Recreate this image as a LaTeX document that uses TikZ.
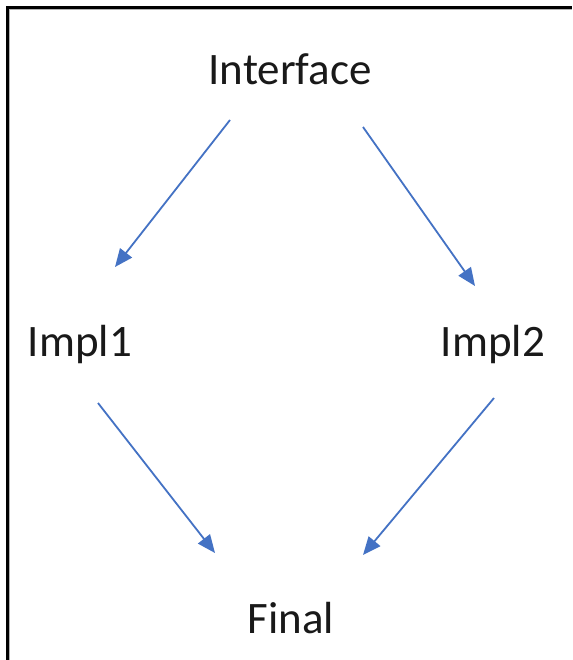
\documentclass[tikz,border=0pt]{standalone}
\usepackage{fontspec}
\setmainfont{Carlito}
\usetikzlibrary{arrows.meta}
\definecolor{arrblue}{HTML}{4472C4}
\begin{document}
\begin{tikzpicture}[x=1pt,y=-1pt,
  lbl/.style={anchor=base,inner sep=0pt,font=\fontsize{45}{54}\selectfont,text=black!90},
  arr/.style={draw=arrblue,line width=1.8pt,-{Triangle[length=18pt,width=15pt]}}]
\useasboundingbox (0,0) rectangle (572,660);
\fill[white] (0,0) rectangle (572,660);
% frame (top and left)
\draw[gray!60,line width=1.2pt] (9.5,9.5) -- (572,9.5);
\draw[gray!60,line width=1.2pt] (9.5,9.5) -- (9.5,660);
\draw[black,line width=2.2pt] (7.5,7.5) -- (572,7.5);
\draw[black,line width=2.2pt] (7.5,6.4) -- (7.5,660);
% nodes
\node[lbl] (iface) at (290,85) {Interface};
\node[lbl] (impl1) at (80,356) {Impl1};
\node[lbl] (impl2) at (493,356) {Impl2};
\node[lbl] (final) at (291,633) {Final};
% connectors
\draw[arr] ([shift={(-60,35)}]iface.base) -- ([shift={(35,-89)}]impl1.base);
\draw[arr] ([shift={(73,42)}]iface.base) -- ([shift={(-18,-70)}]impl2.base);
\draw[arr] ([shift={(18,47)}]impl1.base) -- ([shift={(-76,-80)}]final.base);
\draw[arr] ([shift={(1,42)}]impl2.base) -- ([shift={(72,-78)}]final.base);
\end{tikzpicture}
\end{document}
